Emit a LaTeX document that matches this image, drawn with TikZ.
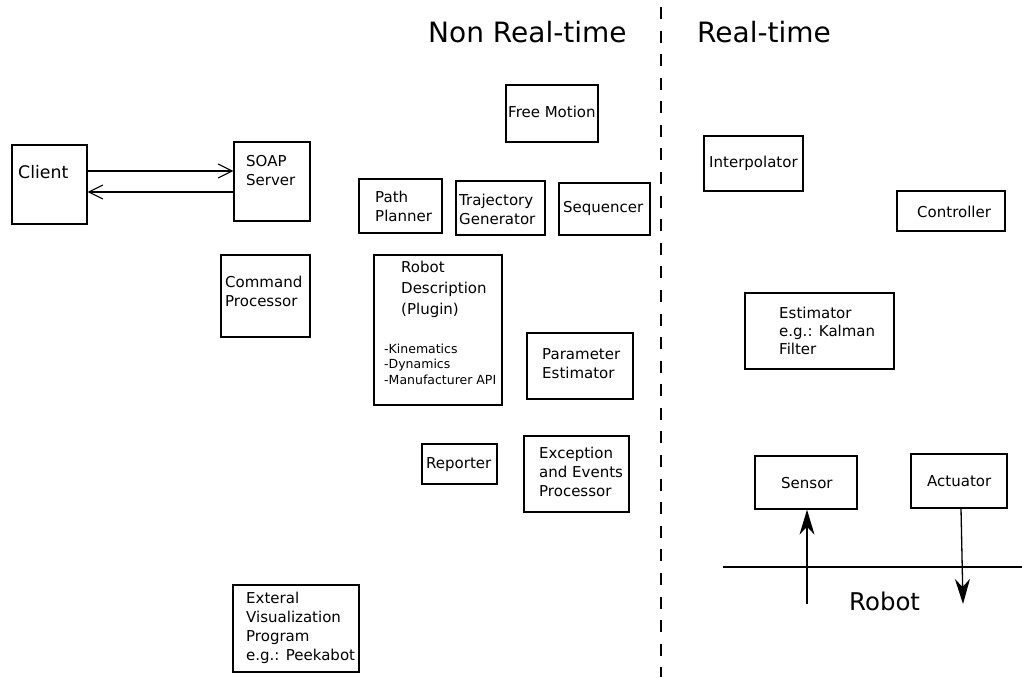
\documentclass[tikz,border=0pt]{standalone}
\usepackage{fontspec}
\setmainfont{DejaVu Sans}
\usetikzlibrary{arrows.meta}
\tikzset{
  box/.style={draw, line width=1.3pt, inner sep=0pt, minimum width=#1},
  thickbox/.style={draw, line width=2pt, inner sep=0pt},
  txt/.style={anchor=west, inner sep=0pt, align=left, font=\fontsize{15}{19}\selectfont},
  smalltxt/.style={anchor=west, inner sep=0pt, align=left, font=\fontsize{12.5}{15.5}\selectfont},
  title/.style={anchor=west, inner sep=0pt, font=\fontsize{28}{32}\selectfont},
  barb/.style={-{Straight Barb[length=14pt,width=14pt,line width=1.1pt]}, line width=1.1pt},
  sarrow/.style={-{Stealth[length=25pt,width=15pt,inset=8pt]}, line width=1.3pt},
}
\newcommand{\rbox}[6][box]{% style, name, x1, y1, x2, y2
  \node[#1, minimum width={(#5-#3)*1pt}, minimum height={(#6-#4)*1pt}] (#2) at ({(#3+#5)/2},{(#4+#6)/2}) {};}
\begin{document}
\begin{tikzpicture}[x=1pt,y=-1pt]
\useasboundingbox (0,0) rectangle (1022,677);
\fill[white] (0,0) rectangle (1022,677);

% divider
\draw[line width=1.3pt, dash pattern=on 12pt off 11.58pt] (661,7) -- (661,677);
\node[title] (nrt) at (428,32) {Non Real-time};
\node[title] (rt) at (697,32) {Real-time};

% boxes
\rbox{client}{12}{145}{87}{224}
\node[txt, font=\fontsize{17.3}{20}\selectfont] (clientt) at (18,172) {Client};
\rbox{soap}{234}{142}{310}{221}
\node[txt] (soapt) at (246,171) {SOAP\\Server};
\rbox{cmd}{221}{255}{310}{337}
\node[txt] (cmdt) at (225,291.5) {Command\\Processor};
\rbox{free}{506}{85}{598}{142}
\node[txt] (freet) at (508,112) {Free Motion};
\rbox{path}{359}{179}{442}{233}
\node[txt] (patht) at (375,206.5) {Path\\Planner};
\rbox{traj}{456}{181}{545}{235}
\node[txt] (trajt) at (459,209.5) {Trajectory\\Generator};
\rbox{seq}{559}{183}{650}{235}
\node[txt] (seqt) at (563,208) {Sequencer};
\rbox[thickbox]{robdesc}{374}{255}{502}{405}
\node[txt, font=\fontsize{15}{21}\selectfont] (robdesct) at (401,289) {Robot\\Description\\(Plugin)};
\node[smalltxt] (robdescs) at (384,364) {-Kinematics\\-Dynamics\\-Manufacturer API};
\rbox{param}{527}{333}{633}{399}
\node[txt] (paramt) at (542,363.5) {Parameter\\Estimator};
\rbox{rep}{422}{444}{497}{484}
\node[txt] (rept) at (426,465) {Reporter};
\rbox{exc}{524}{436}{629}{512}
\node[txt] (exct) at (539,472) {Exception\\and Events\\Processor};
\rbox{ext}{233}{585}{359}{672}
\node[txt] (extt) at (246,627.5) {Exteral\\Visualization\\Program\\e.g.: Peekabot};

\rbox{interp}{704}{136}{803}{191}
\node[txt] (interpt) at (709,163) {Interpolator};
\rbox{ctrl}{897}{191}{1005}{231}
\node[txt] (ctrlt) at (917,212) {Controller};
\rbox[thickbox]{est}{745}{293}{894}{369}
\node[txt, font=\fontsize{15}{18}\selectfont] (estt) at (779,331) {Estimator\\e.g.: Kalman\\Filter};
\rbox{sensor}{755}{456}{857}{509}
\node[txt] (sensort) at (781,483) {Sensor};
\rbox{act}{911}{454}{1007}{508}
\node[txt] (actt) at (927,481) {Actuator};

% robot line
\draw[line width=1.3pt] (723,567) -- (1022,567);
\node[anchor=west, inner sep=0pt, font=\fontsize{24.4}{28}\selectfont] (robot) at (849,601) {Robot};

% connectors
\draw[barb] ([yshift=13.5pt]client.east) -- ([yshift=13.5pt]client.east -| soap.west);
\draw[barb] ([yshift=-7.5pt]client.east -| soap.west) -- ([yshift=-7.5pt]client.east);
\coordinate (sbot) at (807,604);
\coordinate (abot) at (963,604);
\draw[sarrow] (sbot) -- (sensor.south -| sbot);
\draw[sarrow] ([xshift=2pt]act.south) -- (abot);
\end{tikzpicture}
\end{document}
